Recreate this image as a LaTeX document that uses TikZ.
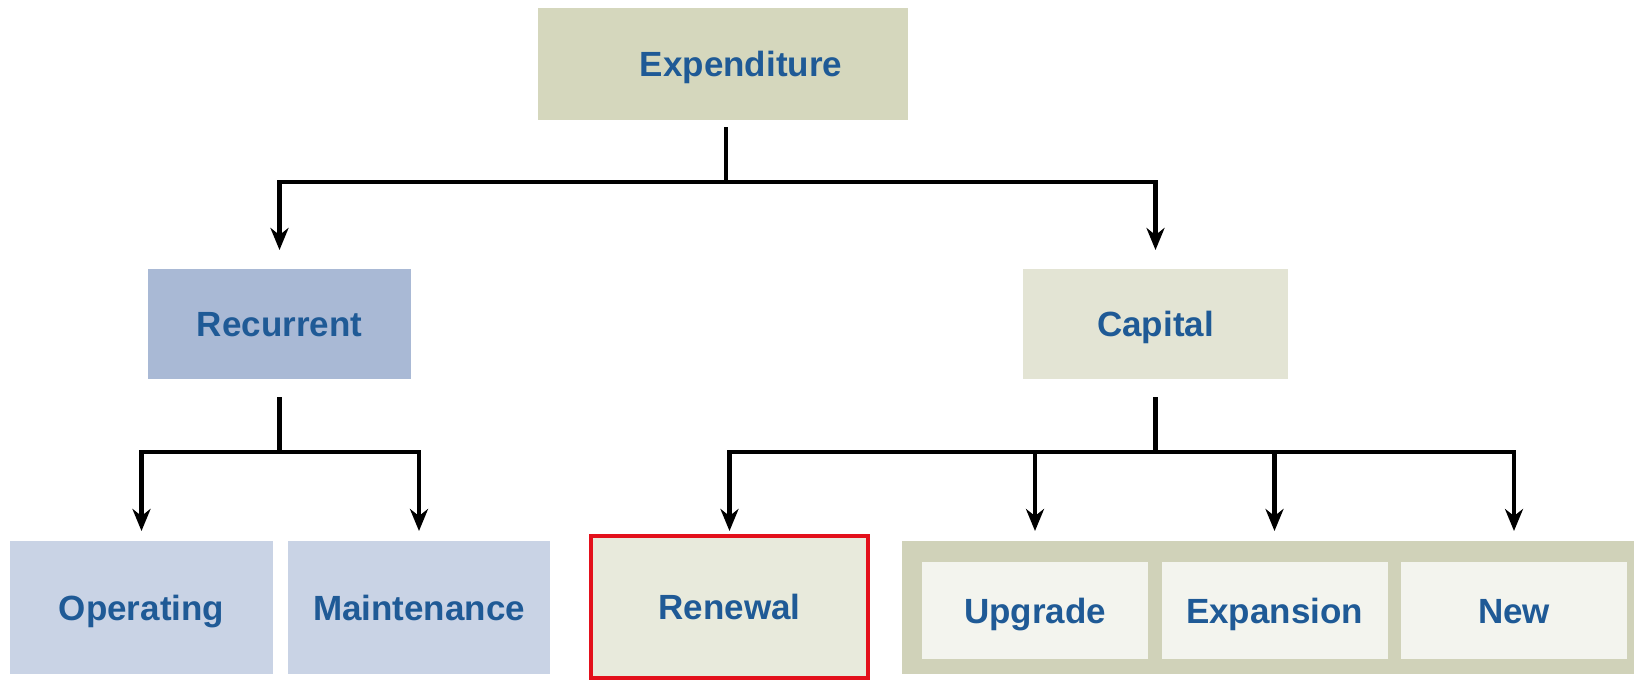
\documentclass[tikz,border=0pt]{standalone}
\usepackage{fontspec}
\setmainfont{Liberation Sans}
\usetikzlibrary{arrows.meta}
\definecolor{txt}{HTML}{1F5A96}
\definecolor{cExp}{HTML}{D5D7BD}
\definecolor{cRec}{HTML}{A9B9D5}
\definecolor{cOp}{HTML}{C9D3E5}
\definecolor{cCap}{HTML}{E3E4D4}
\definecolor{cRen}{HTML}{E8EADC}
\definecolor{cGrp}{HTML}{D0D2B9}
\definecolor{cIn}{HTML}{F3F4EE}
\definecolor{cRed}{HTML}{E3101B}
\begin{document}
\begin{tikzpicture}[x=0.5pt,y=-0.5pt,
  box/.style={inner sep=0pt, outer sep=0pt, minimum width=131.5pt, minimum height=55pt,
    text height=12.5pt, text depth=0pt,
    font=\fontsize{17.5}{21}\selectfont\bfseries, text=txt},
  inbox/.style={box, fill=cIn, minimum width=113pt, minimum height=48.5pt},
  line/.style={line width=2.4pt, black, line join=miter},
  arr/.style={line, -{Stealth[length=11pt,width=9pt,inset=3.5pt]}}]
\useasboundingbox (0,0) rectangle (1634,682);
% nodes
\node[box, fill=cExp, minimum width=185pt, minimum height=56pt] (exp) at (723,64) {\hspace*{18pt}Expenditure};
\node[box, fill=cRec] (rec) at (279.5,324) {Recurrent};
\node[box, fill=cCap, minimum width=132.5pt] (cap) at (1155.5,324) {Capital};
\node[box, fill=cOp, minimum height=66.5pt] (op) at (141.5,607.5) {Operating};
\node[box, fill=cOp, minimum width=131pt, minimum height=66.5pt] (mnt) at (419,607.5) {Maintenance};
\node[box, fill=cRen, draw=cRed, line width=2pt, minimum width=138.5pt, minimum height=71pt] (ren) at (729.5,607) {Renewal};
\node[box, fill=cGrp, minimum width=369pt, minimum height=66.5pt] (grp) at (1271,607.5) {};
\node[inbox] (upg) at (1035,610.5) {Upgrade};
\node[inbox] (exn) at (1274.5,610.5) {Expansion};
\node[inbox] (new) at (1514,610.5) {New};
% connectors
\draw[line] ([xshift=1.5pt,yshift=-3.5pt]exp.south) -- ++(0,55) coordinate (j1);
\draw[arr] (j1) -| ([yshift=9.5pt]rec.north);
\draw[arr] (j1) -| ([yshift=9.5pt]cap.north);
\draw[line] ([yshift=-9pt]rec.south) -- ++(0,55) coordinate (j2);
\draw[arr] (j2) -| ([yshift=5pt]op.north);
\draw[arr] (j2) -| ([yshift=5pt]mnt.north);
\draw[line] ([yshift=-9pt]cap.south) -- ++(0,55) coordinate (j3);
\draw[arr] (j3) -| ([yshift=2.5pt]ren.north);
\path (upg.north |- grp.north) ++(0,-10) coordinate (tu);
\path (exn.north |- grp.north) ++(0,-10) coordinate (te);
\path (new.north |- grp.north) ++(0,-10) coordinate (tn);
\draw[arr] (j3) -| (tu);
\draw[arr] (j3) -| (te);
\draw[arr] (j3) -| (tn);
\end{tikzpicture}
\end{document}
